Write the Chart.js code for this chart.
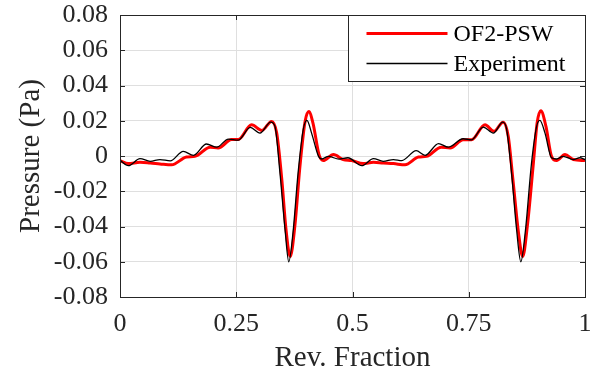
<!DOCTYPE html>
<html>
<head>
<meta charset="utf-8">
<script src="https://cdn.jsdelivr.net/npm/chart.js@4.4.0/dist/chart.umd.min.js"></script>
<style>
html, body { margin: 0; padding: 0; background: #fff; }
</style>
</head>
<body>
<canvas id="chart" width="603" height="380"></canvas>
<script>
// OF2-PSW simulation (red)
const simX = [0, 0.018, 0.043, 0.065, 0.086, 0.111, 0.143, 0.161, 0.194, 0.211, 0.240, 0.254, 0.283, 0.305, 0.326, 0.337, 0.348, 0.357, 0.366, 0.376, 0.387, 0.398, 0.406, 0.415, 0.428, 0.437, 0.459, 0.480, 0.498, 0.523, 0.545, 0.566, 0.588, 0.613, 0.642, 0.659, 0.691, 0.710, 0.738, 0.756, 0.785, 0.804, 0.824, 0.835, 0.845, 0.857, 0.866, 0.876, 0.889, 0.897, 0.905, 0.916, 0.928, 0.939, 0.957, 0.975, 1.0];
const simP = [-0.0026, -0.0043, -0.0036, -0.004, -0.0045, -0.005, -0.0006, -0.0002, 0.005, 0.0045, 0.0093, 0.0093, 0.0177, 0.0145, 0.0196, 0.013, -0.0134, -0.0417, -0.057, -0.0398, -0.0058, 0.0196, 0.0253, 0.0187, 0.0008, -0.0026, 0.0008, -0.002, -0.0026, -0.0043, -0.0036, -0.004, -0.0043, -0.005, -0.0006, -0.0002, 0.005, 0.0045, 0.0092, 0.0092, 0.0177, 0.014, 0.0192, 0.011, -0.0134, -0.0436, -0.057, -0.0398, -0.004, 0.0187, 0.0257, 0.0168, -0.0002, -0.0026, 0.0008, -0.002, -0.0026];

// Experiment (black)
const expX = [0, 0.018, 0.043, 0.065, 0.086, 0.108, 0.136, 0.158, 0.186, 0.208, 0.233, 0.254, 0.280, 0.301, 0.324, 0.333, 0.344, 0.355, 0.363, 0.372, 0.383, 0.394, 0.402, 0.412, 0.427, 0.434, 0.448, 0.471, 0.490, 0.520, 0.545, 0.566, 0.588, 0.606, 0.637, 0.656, 0.685, 0.706, 0.738, 0.756, 0.781, 0.803, 0.823, 0.831, 0.842, 0.853, 0.862, 0.872, 0.885, 0.896, 0.903, 0.914, 0.928, 0.939, 0.953, 0.975, 0.989, 1.0];
const expP = [-0.0025, -0.0055, -0.0015, -0.003, -0.002, -0.0028, 0.0026, 0.0004, 0.0068, 0.005, 0.0096, 0.009, 0.0162, 0.013, 0.0192, 0.017, -0.0096, -0.042, -0.060, -0.0436, -0.0096, 0.015, 0.0202, 0.013, -0.0002, -0.0017, -0.0002, -0.0018, -0.001, -0.0055, -0.0015, -0.003, -0.002, -0.0026, 0.003, 0.0004, 0.007, 0.005, 0.0098, 0.0092, 0.0164, 0.013, 0.0192, 0.0158, -0.0096, -0.042, -0.060, -0.042, -0.004, 0.0168, 0.0202, 0.013, -0.001, -0.0017, -0.0002, -0.002, -0.001, -0.002];

const xTicks = [0, 0.25, 0.5, 0.75, 1];
const yTicks = [-0.08, -0.06, -0.04, -0.02, 0, 0.02, 0.04, 0.06, 0.08];

const serif = "'Liberation Serif', 'Times New Roman', serif";
const frameColor = '#262626';

function toPoints(xs, ys) {
    return xs.map((x, i) => ({ x: x, y: ys[i] }));
}

// frame, inward ticks and legend box, matlab style
const framePlugin = {
    id: 'frame',
    afterDatasetsDraw(chart) {
        const c = chart.ctx;
        const a = chart.chartArea;
        const xs = chart.scales.x;
        const ys = chart.scales.y;
        const tl = 5;
        c.save();
        c.strokeStyle = frameColor;
        c.lineWidth = 1;
        c.beginPath();
        xTicks.forEach(v => {
            const px = Math.round(xs.getPixelForValue(v)) + 0.5;
            c.moveTo(px, a.bottom); c.lineTo(px, a.bottom - tl);
            c.moveTo(px, a.top); c.lineTo(px, a.top + tl);
        });
        yTicks.forEach(v => {
            const py = Math.round(ys.getPixelForValue(v)) + 0.5;
            c.moveTo(a.left, py); c.lineTo(a.left + tl, py);
            c.moveTo(a.right, py); c.lineTo(a.right - tl, py);
        });
        c.stroke();
        c.strokeRect(Math.round(a.left) + 0.5, Math.round(a.top) + 0.5,
            Math.round(a.right - a.left), Math.round(a.bottom - a.top));

        // legend
        const w = 237, h = 66;
        const lx = Math.round(a.right - w) + 0.5, ly = Math.round(a.top) + 0.5;
        c.fillStyle = '#fff';
        c.fillRect(lx, ly, w, h);
        c.strokeRect(lx, ly, w, h);
        c.font = '24px ' + serif;
        c.textBaseline = 'middle';
        const ds = chart.data.datasets;
        ds.forEach((d, i) => {
            const yy = ly + 18 + i * 30;
            c.strokeStyle = d.borderColor;
            c.lineWidth = d.borderWidth;
            c.beginPath();
            c.moveTo(lx + 18, yy);
            c.lineTo(lx + 99, yy);
            c.stroke();
            c.fillStyle = '#000';
            c.fillText(d.label, lx + 105, yy + 1);
        });
        c.restore();
    }
};

const ctx = document.getElementById('chart').getContext('2d');
const chart = new Chart(ctx, {
    type: 'line',
    data: {
        datasets: [{
            label: 'OF2-PSW',
            data: toPoints(simX, simP),
            borderColor: '#ff0000',
            borderWidth: 3,
            pointRadius: 0,
            cubicInterpolationMode: 'monotone',
            order: 2
        }, {
            label: 'Experiment',
            data: toPoints(expX, expP),
            borderColor: '#000000',
            borderWidth: 1.3,
            pointRadius: 0,
            cubicInterpolationMode: 'monotone',
            order: 1
        }]
    },
    options: {
        responsive: false,
        animation: false,
        layout: { padding: { top: 15, right: 18, left: 0, bottom: 0 } },
        plugins: {
            legend: { display: false },
            tooltip: { enabled: false }
        },
        scales: {
            x: {
                type: 'linear',
                min: 0,
                max: 1,
                afterBuildTicks: s => { s.ticks = xTicks.map(v => ({ value: v })); },
                afterFit: s => { s.height = 83; s.paddingLeft = 0; s.paddingRight = 0; },
                grid: { color: '#dfdfdf', drawTicks: false },
                border: { display: false },
                ticks: {
                    autoSkip: false,
                    maxRotation: 0,
                    padding: 12,
                    color: '#262626',
                    font: { family: serif, size: 26 },
                    callback: v => String(+v.toFixed(2))
                },
                title: {
                    display: true,
                    text: 'Rev. Fraction',
                    color: '#262626',
                    font: { family: serif, size: 29 },
                    padding: { top: 0, bottom: 4 }
                }
            },
            y: {
                min: -0.08,
                max: 0.08,
                afterBuildTicks: s => { s.ticks = yTicks.map(v => ({ value: v })); },
                afterFit: s => { s.width = 120; s.paddingTop = 0; s.paddingBottom = 0; },
                grid: { color: '#dfdfdf', drawTicks: false },
                border: { display: false },
                ticks: {
                    autoSkip: false,
                    padding: 12,
                    color: '#262626',
                    font: { family: serif, size: 26 },
                    callback: v => String(+v.toFixed(2))
                },
                title: {
                    display: true,
                    text: 'Pressure (Pa)',
                    color: '#262626',
                    font: { family: serif, size: 29 },
                    padding: { top: 14, bottom: 0 }
                }
            }
        }
    },
    plugins: [framePlugin]
});
</script>
</body>
</html>
